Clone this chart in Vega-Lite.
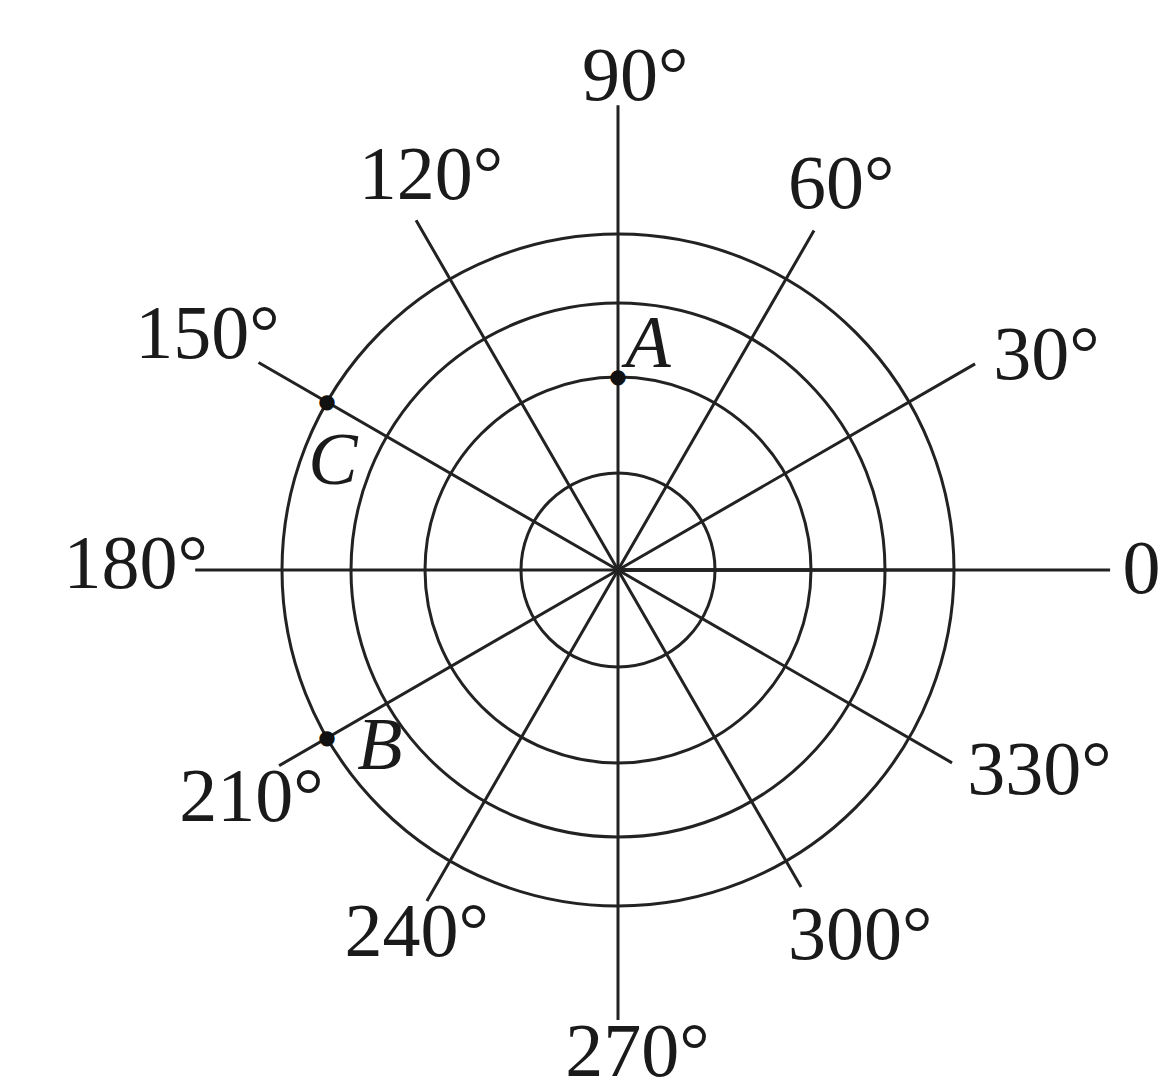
{
  "$schema": "https://vega.github.io/schema/vega-lite/v6.json",
  "autosize": {"type": "none"},
  "width": 1000,
  "height": 1000,
  "padding": {"left": 118, "top": 70, "right": 42, "bottom": 15},
  "background": "white",
  "config": {"view": {"stroke": null}},
  "datasets": {
    "rings": [{"ring": 1}, {"ring": 2}, {"ring": 3}, {"ring": 4}],
    "rays": [
      {"angle": 0, "length": 6.23, "label": "0", "labelAngle": 0, "labelR": 6.68},
      {"angle": 30, "length": 5.09, "label": "30°", "labelAngle": 26.5, "labelR": 6.04},
      {"angle": 60, "length": 4.8, "label": "60°", "labelAngle": 59.9, "labelR": 5.56},
      {"angle": 90, "length": 5.84, "label": "90°", "labelAngle": 88.0, "labelR": 6.25},
      {"angle": 120, "length": 4.97, "label": "120°", "labelAngle": 115.4, "labelR": 5.43},
      {"angle": 150, "length": 5.13, "label": "150°", "labelAngle": 150.2, "labelR": 5.96},
      {"angle": 180, "length": 5.24, "label": "180°", "labelAngle": 179.4, "labelR": 6.09},
      {"angle": 210, "length": 4.79, "label": "210°", "labelAngle": 211.9, "labelR": 5.37},
      {"angle": 240, "length": 4.66, "label": "240°", "labelAngle": 241.0, "labelR": 5.13},
      {"angle": 270, "length": 5.63, "label": "270°", "labelAngle": 272.3, "labelR": 6.1},
      {"angle": 300, "length": 4.43, "label": "300°", "labelAngle": 303.5, "labelR": 5.47},
      {"angle": 330, "length": 4.71, "label": "330°", "labelAngle": 334.5, "labelR": 5.87}
    ],
    "points": [
      {"name": "A", "angle": 90, "r": 2, "labelAngle": 82.4, "labelR": 2.46},
      {"name": "B", "angle": 210, "r": 4, "labelAngle": 216.6, "labelR": 3.43},
      {"name": "C", "angle": 150, "r": 4, "labelAngle": 159.25, "labelR": 3.55}
    ]
  },
  "layer": [
    {
      "data": {"name": "rings"},
      "mark": {"type": "arc", "filled": false, "stroke": "#222222", "strokeWidth": 3},
      "encoding": {
        "theta": {"datum": 0, "type": "quantitative", "stack": null, "scale": {"type": "linear", "domain": [0, 360], "range": [1.5707963, -4.712389], "zero": false, "nice": false}},
        "theta2": {"datum": 360},
        "radius": {"field": "ring", "type": "quantitative", "stack": null, "scale": {"type": "linear", "domain": [0, 1, 2, 3, 4, 8], "range": [0, 97, 193, 267, 336, 616], "zero": false, "nice": false}}
      }
    },
    {
      "data": {"name": "rays"},
      "mark": {"type": "arc", "filled": false, "stroke": "#222222", "strokeWidth": 3},
      "encoding": {
        "theta": {"field": "angle", "type": "quantitative", "stack": null, "scale": {"type": "linear", "domain": [0, 360], "range": [1.5707963, -4.712389], "zero": false, "nice": false}},
        "theta2": {"field": "angle"},
        "radius": {"field": "length", "type": "quantitative", "stack": null, "scale": {"type": "linear", "domain": [0, 1, 2, 3, 4, 8], "range": [0, 97, 193, 267, 336, 616], "zero": false, "nice": false}},
        "radius2": {"datum": 0}
      }
    },
    {
      "data": {"name": "rays"},
      "mark": {"type": "text", "font": "Liberation Serif", "fontSize": 76, "color": "#1a1a1a", "align": "center", "baseline": "middle"},
      "encoding": {
        "theta": {"field": "labelAngle", "type": "quantitative", "stack": null, "scale": {"type": "linear", "domain": [0, 360], "range": [1.5707963, -4.712389], "zero": false, "nice": false}},
        "radius": {"field": "labelR", "type": "quantitative", "stack": null, "scale": {"type": "linear", "domain": [0, 1, 2, 3, 4, 8], "range": [0, 97, 193, 267, 336, 616], "zero": false, "nice": false}},
        "text": {"field": "label"}
      }
    },
    {
      "data": {"name": "points"},
      "mark": {"type": "text", "text": "●", "font": "DejaVu Sans", "fontSize": 20, "color": "#111111", "align": "center", "baseline": "middle"},
      "encoding": {
        "theta": {"field": "angle", "type": "quantitative", "stack": null, "scale": {"type": "linear", "domain": [0, 360], "range": [1.5707963, -4.712389], "zero": false, "nice": false}},
        "radius": {"field": "r", "type": "quantitative", "stack": null, "scale": {"type": "linear", "domain": [0, 1, 2, 3, 4, 8], "range": [0, 97, 193, 267, 336, 616], "zero": false, "nice": false}}
      }
    },
    {
      "data": {"name": "points"},
      "mark": {"type": "text", "font": "Liberation Serif", "fontStyle": "italic", "fontSize": 74, "color": "#1a1a1a", "align": "center", "baseline": "middle"},
      "encoding": {
        "theta": {"field": "labelAngle", "type": "quantitative", "stack": null, "scale": {"type": "linear", "domain": [0, 360], "range": [1.5707963, -4.712389], "zero": false, "nice": false}},
        "radius": {"field": "labelR", "type": "quantitative", "stack": null, "scale": {"type": "linear", "domain": [0, 1, 2, 3, 4, 8], "range": [0, 97, 193, 267, 336, 616], "zero": false, "nice": false}},
        "text": {"field": "name"}
      }
    }
  ]
}
